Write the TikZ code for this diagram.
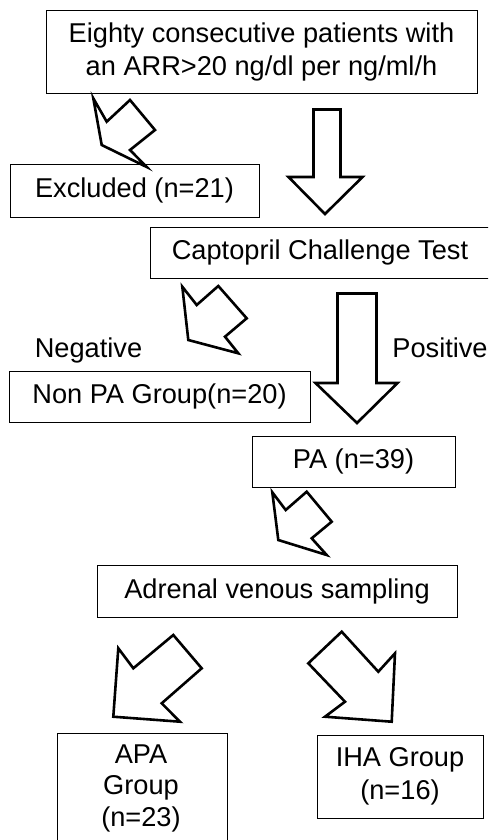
\documentclass[tikz,border=0pt]{standalone}
\usepackage{fontspec}
\setmainfont{Liberation Sans}
\begin{document}
\begin{tikzpicture}[x=1pt,y=-1pt,
  box/.style={draw=black,line width=0.9pt,inner sep=0pt,align=center,
    font=\fontsize{27.2}{33}\selectfont},
  lbl/.style={inner sep=0pt,anchor=base,font=\fontsize{27.2}{33}\selectfont},
  blk/.style={draw=black,line width=2.6pt,line join=miter,fill=white}]
\useasboundingbox (0,0) rectangle (488,840);
\clip (0,0) rectangle (488,840);
% boxes
\node[box,minimum width=431pt,minimum height=83pt] (top) at (261.5,51.5)
  {Eighty consecutive patients with\\an ARR>20 ng/dl per ng/ml/h};
\node[box,minimum width=249pt,minimum height=53pt] (excl) at (134.5,190.5) {Excluded (n=21)};
\node[box,minimum width=340pt,minimum height=51pt] (cct) at (320,252.5) {Captopril Challenge Test};
\node[box,minimum width=301pt,minimum height=51pt] (nonpa) at (159.5,396.5) {Non PA Group(n=20)};
\node[box,minimum width=203pt,minimum height=51pt] (pa) at (353.5,461.5) {PA (n=39)};
\node[box,minimum width=360pt,minimum height=52pt] (avs) at (277,591) {Adrenal venous sampling};
\node[box,minimum width=170pt,minimum height=112pt] (apa) at (142,789) {};
\node[lbl,anchor=base] (apat) at (141,763) {APA};
\node[lbl,anchor=base] (apag) at (141,794.5) {Group};
\node[lbl,anchor=base] (apan) at (141,826) {(n=23)};
\node[box,minimum width=166pt,minimum height=83pt] (iha) at (400,776.5) {IHA Group\\(n=16)};
% labels
\node[lbl] (neg) at (88.5,357) {Negative};
\node[lbl] (pos) at (440,357) {Positive};
% big down arrows
\draw[blk] (313.5,109.5) -- (340.5,109.5) -- (340.5,177) -- (362.5,177) -- (325,214)
  -- (288.5,177) -- (313.5,177) -- cycle;
\draw[blk] (337.5,293.5) -- (376.5,293.5) -- (376.5,383) -- (397.5,383) -- (357,423)
  -- (315.5,383) -- (337.5,383) -- cycle;
% diagonal block arrows
\draw[blk] (93.3,98.3) -- (106.7,121.7) -- (130,100) -- (155,130) -- (130,150)
  -- (146.7,167) -- (101.7,145) -- cycle;
\draw[blk] (182.3,286.7) -- (196.7,305) -- (218.3,286) -- (246.7,318.3) -- (225,336.7)
  -- (238.3,353.3) -- (188.3,340) -- cycle;
\draw[blk] (272.3,492.3) -- (285.7,510) -- (306.7,491.7) -- (331.7,521.7) -- (311.7,538.3)
  -- (326.7,555) -- (278.3,540) -- cycle;
\draw[blk] (118.3,648.3) -- (133.3,668.3) -- (173.3,635) -- (201.7,668.3) -- (161.7,703.3)
  -- (180,721.7) -- (113.3,716.7) -- cycle;
\draw[blk] (308.3,663.3) -- (341.7,631.7) -- (378.3,671.7) -- (395,653.3) -- (391.7,721.7)
  -- (325,716.7) -- (345,701.7) -- cycle;
\end{tikzpicture}
\end{document}
